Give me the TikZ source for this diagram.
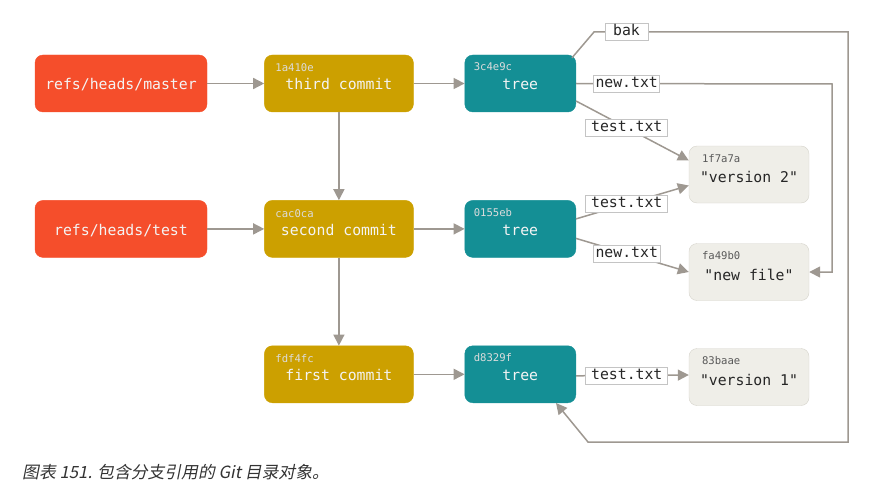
\documentclass[tikz,border=0pt]{standalone}
\usepackage{fontspec}
\setmonofont{DejaVu Sans Mono}
\newfontfamily\cjk[FakeSlant=0.2]{Noto Sans CJK SC}
\usepackage{tikz}
\usetikzlibrary{positioning}
\usetikzlibrary{arrows.meta}

\definecolor{refred}{HTML}{F54E2B}
\definecolor{commitgold}{HTML}{CCA000}
\definecolor{treeteal}{HTML}{148F95}
\definecolor{blobgray}{HTML}{EFEEE8}
\definecolor{blobline}{HTML}{D5D3CB}
\definecolor{linegray}{HTML}{9E9891}
\definecolor{labelline}{HTML}{C4C4C4}
\definecolor{boxtext}{HTML}{F4F4F4}
\definecolor{captext}{HTML}{333333}

\begin{document}
\begin{tikzpicture}[x=1pt, y=-1pt,
objnode/.style={rectangle, rounded corners=8pt, minimum height=57pt, inner sep=0pt, text height=12.5pt, text depth=0pt, text=boxtext, font=\ttfamily\fontsize{14.8}{16}\selectfont},
refnode/.style={objnode, fill=refred, draw=refred, minimum width=172pt},
commitnode/.style={objnode, fill=commitgold, draw=commitgold, minimum width=149pt},
treenode/.style={objnode, fill=treeteal, draw=treeteal, minimum width=111pt},
blobnode/.style={objnode, fill=blobgray, draw=blobline, minimum width=120pt, text height=16pt, text=black!85},
hash/.style={inner sep=0pt, text=boxtext!90!black, font=\ttfamily\fontsize{10.6}{12}\selectfont},
blobhash/.style={hash, text=black!65},
fname/.style={rectangle, fill=white, draw=labelline, line width=0.8pt, inner xsep=2pt, inner ysep=1.5pt, text height=11pt, text depth=3pt, text=black!85, font=\ttfamily\fontsize{14.8}{16}\selectfont},
edge/.style={draw=linegray, line width=1.5pt, -{Triangle[length=11pt,width=11pt]}},
caption/.style={inner sep=0pt, text=captext, font=\cjk\fontsize{16.8}{19}\selectfont}
]
\useasboundingbox (0,0) rectangle (885,492);

%Nodes
\node[refnode]          (master)   at (121,83.5)            {refs/heads/master};
\node[commitnode]       (c3)       [right=57pt of master]   {third commit};
\node[treenode]         (t3)       [right=51pt of c3]       {tree};

\node[commitnode]       (c2)       [below=88pt of c3]       {second commit};
\node[refnode]          (test)     [left=57pt of c2]        {refs/heads/test};
\node[treenode]         (t2)       [right=51pt of c2]       {tree};

\node[commitnode]       (c1)       [below=88pt of c2]       {first commit};
\node[treenode]         (t1)       [right=51pt of c1]       {tree};

\node[blobnode]         (b1)       at (749,174.5)           {"version 2"};
\node[blobnode]         (b2)       at (749,272)             {"new file"};
\node[blobnode]         (b3)       at (749,377)             {"version 1"};

% hashes in the upper left corners
\node[hash]     (c3id)  [below right=9pt and 11pt of c3.north west]  {1a410e};
\node[hash]     (c2id)  [below right=9pt and 11pt of c2.north west]  {cac0ca};
\node[hash]     (c1id)  [below right=9pt and 11pt of c1.north west]  {fdf4fc};
\node[hash]     (t3id)  [below right=8pt and 9pt of t3.north west]   {3c4e9c};
\node[hash]     (t2id)  [below right=8pt and 9pt of t2.north west]   {0155eb};
\node[hash]     (t1id)  [below right=8pt and 9pt of t1.north west]   {d8329f};
\node[blobhash] (b1id)  [below right=8pt and 13pt of b1.north west]  {1f7a7a};
\node[blobhash] (b2id)  [below right=8pt and 13pt of b2.north west]  {fa49b0};
\node[blobhash] (b3id)  [below right=8pt and 13pt of b3.north west]  {83baae};

% corners of the long lines
\coordinate (bak1) at (594,32);
\coordinate (bak2) at (848,32);
\coordinate (bak3) at (588,442);
\coordinate (new1) at (832,84);

%Lines
\draw[edge] (master) -- (c3);
\draw[edge] (test) -- (c2);
\draw[edge] (c3) -- (t3);
\draw[edge] (c2) -- (t2);
\draw[edge] (c1) -- (t1);
\draw[edge] (c3) -- (c2);
\draw[edge] (c2) -- (c1);

\draw[edge] ([shift={(-4pt,-3pt)}]t3.north east) -- (bak1) -- node[fname, pos=0.128, minimum width=43pt] (lbak) {bak} (bak2) |- (bak3) -- ([xshift=-20pt]t1.south east);
\draw[edge] (t3.east) -- node[fname, pos=0.198] (lnew3) {new.txt} (new1) |- (b2.east);
\draw[edge] ([yshift=-17.5pt]t3.east) -- node[fname, pos=0.45, minimum width=82pt] (ltest3) {test.txt} ([yshift=14pt]b1.west);

\draw[edge] ([yshift=10pt]t2.east) -- node[fname, pos=0.45, minimum width=82pt] (ltest2) {test.txt} ([yshift=-11pt]b1.west);
\draw[edge] ([yshift=-9.5pt]t2.east) -- node[fname, pos=0.45] (lnew2) {new.txt} (b2.west);

\draw[edge] ([yshift=-1.5pt]t1.east) -- node[fname, pos=0.45, minimum width=82pt] (ltest1) {test.txt} ([yshift=2pt]b3.west);

% caption under the diagram
\node[caption, anchor=west] (cap) at (22,472) {图表 151. 包含分支引用的 Git 目录对象。};

\end{tikzpicture}
\end{document}
